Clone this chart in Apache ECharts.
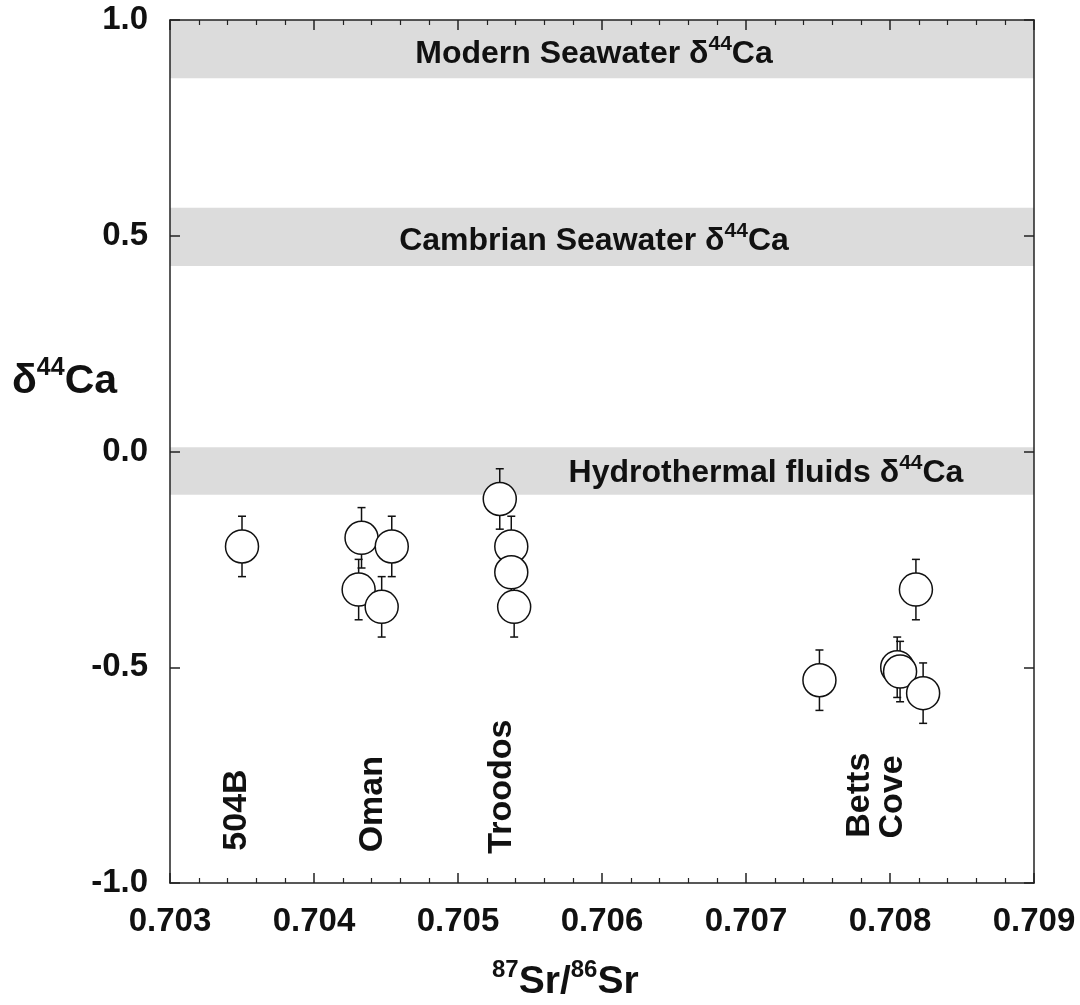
<!DOCTYPE html>
<html>
<head>
<meta charset="utf-8">
<title>d44Ca vs 87Sr/86Sr</title>
<script src="https://cdn.jsdelivr.net/npm/echarts@6/dist/echarts.min.js"></script>
<style>
  html, body { margin: 0; padding: 0; background: #fff; }
  #main { width: 1080px; height: 1005px; }
</style>
</head>
<body>
<div id="main"></div>
<script type="text/javascript">
// samples: 87Sr/86Sr and d44Ca with 2 sigma error
const srRatio = [0.70350, 0.70433, 0.70454, 0.70431, 0.70447, 0.70529, 0.70537, 0.70537, 0.70539, 0.70751, 0.70818, 0.70805, 0.70807, 0.70823];
const d44Ca   = [-0.22, -0.20, -0.22, -0.32, -0.36, -0.11, -0.22, -0.28, -0.36, -0.53, -0.32, -0.50, -0.51, -0.56];
const d44Err  = [0.07, 0.07, 0.07, 0.07, 0.07, 0.07, 0.07, 0.07, 0.07, 0.07, 0.07, 0.07, 0.07, 0.07];

// reference bands
const bandNames = ['Modern Seawater', 'Cambrian Seawater', 'Hydrothermal fluids'];
const bandLow   = [0.865, 0.43, -0.10];
const bandHigh  = [1.0, 0.565, 0.01];

// locality labels
const groupNames = ['504B', 'Oman', 'Troodos', 'Betts', 'Cove'];
const groupX     = [0.703465, 0.70441, 0.705306, 0.707792, 0.708021];
const groupY     = [-0.925, -0.929, -0.932, -0.895, -0.897];

const FONT = '"Liberation Sans", Arial, Helvetica, sans-serif';
const INK = '#111';

const supRich = {
  t: { fontFamily: FONT, fontWeight: 'bold', fontSize: 32, color: INK, lineHeight: 36, verticalAlign: 'bottom' },
  s: { fontFamily: FONT, fontWeight: 'bold', fontSize: 21, color: INK, lineHeight: 22, verticalAlign: 'top' }
};
const bandOffsets = [[-8, 3], [-8, 2], [164, 0]];

const chart = echarts.init(document.getElementById('main'));

function axisStyle() {
  return {
    z: 10,
    axisLine: { onZero: false, lineStyle: { color: '#222', width: 1.5 } },
    axisTick: { inside: true, length: 10, lineStyle: { color: '#222', width: 1.5 } },
    splitLine: { show: false }
  };
}
const minor = { show: true, splitNumber: 5, length: 5, lineStyle: { color: '#222', width: 1.2 } };

chart.setOption({
  animation: false,
  backgroundColor: '#fff',
  grid: { left: 170, right: 46, top: 20, bottom: 122 },
  xAxis: [
    Object.assign(axisStyle(), {
      type: 'value', position: 'bottom', min: 0.703, max: 0.709, interval: 0.001,
      minorTick: minor,
      axisLabel: { margin: 22, fontFamily: FONT, fontWeight: 'bold', fontSize: 33, color: INK,
                   formatter: v => v.toFixed(3) }
    }),
    Object.assign(axisStyle(), {
      type: 'value', position: 'top', min: 0.703, max: 0.709, interval: 0.001,
      minorTick: minor,
      axisLabel: { show: false }
    })
  ],
  yAxis: [
    Object.assign(axisStyle(), {
      type: 'value', position: 'left', min: -1, max: 1, interval: 0.5,
      axisLabel: { margin: 22, fontFamily: FONT, fontWeight: 'bold', fontSize: 33, color: INK,
                   formatter: v => v.toFixed(1) }
    }),
    Object.assign(axisStyle(), {
      type: 'value', position: 'right', min: -1, max: 1, interval: 0.5,
      axisLabel: { show: false }
    })
  ],
  graphic: [
    {
      type: 'text', left: 12, top: 356,
      style: {
        text: '{t|δ}{s|44}{t|Ca}',
        rich: {
          t: { fontFamily: FONT, fontWeight: 'bold', fontSize: 41, fill: INK, lineHeight: 46, verticalAlign: 'bottom' },
          s: { fontFamily: FONT, fontWeight: 'bold', fontSize: 25, fill: INK, lineHeight: 24, verticalAlign: 'top' }
        }
      }
    },
    {
      type: 'text', left: 492, top: 958,
      style: {
        text: '{s|87}{t|Sr/}{s|86}{t|Sr}',
        rich: {
          t: { fontFamily: FONT, fontWeight: 'bold', fontSize: 39, fill: INK, lineHeight: 44, verticalAlign: 'bottom' },
          s: { fontFamily: FONT, fontWeight: 'bold', fontSize: 24, fill: INK, lineHeight: 24, verticalAlign: 'top' }
        }
      }
    }
  ],
  series: [
    {
      name: 'bands',
      type: 'scatter',
      data: [],
      silent: true,
      markArea: {
        silent: true,
        itemStyle: { color: '#dcdcdc' },
        data: bandNames.map((n, i) => [
          {
            yAxis: bandLow[i],
            label: {
              show: true, position: 'inside', offset: bandOffsets[i],
              formatter: '{t|' + n + ' δ}{s|44}{t|Ca}',
              rich: supRich
            }
          },
          { yAxis: bandHigh[i] }
        ])
      }
    },
    {
      name: 'error',
      type: 'custom',
      z: 3,
      data: srRatio.map((x, i) => [x, d44Ca[i] - d44Err[i], d44Ca[i] + d44Err[i]]),
      renderItem: function (params, api) {
        const lo = api.coord([api.value(0), api.value(1)]);
        const hi = api.coord([api.value(0), api.value(2)]);
        const cap = 4;
        const style = { stroke: INK, lineWidth: 1.5 };
        return {
          type: 'group',
          children: [
            { type: 'line', shape: { x1: lo[0], y1: lo[1], x2: hi[0], y2: hi[1] }, style: style },
            { type: 'line', shape: { x1: lo[0] - cap, y1: lo[1], x2: lo[0] + cap, y2: lo[1] }, style: style },
            { type: 'line', shape: { x1: hi[0] - cap, y1: hi[1], x2: hi[0] + cap, y2: hi[1] }, style: style }
          ]
        };
      }
    },
    {
      name: 'samples',
      type: 'scatter',
      z: 4,
      symbol: 'circle',
      symbolSize: 33,
      itemStyle: { color: '#fff', borderColor: INK, borderWidth: 1.5, opacity: 1 },
      data: srRatio.map((x, i) => [x, d44Ca[i]])
    },
    {
      name: 'localities',
      type: 'scatter',
      z: 5,
      symbolSize: 0,
      silent: true,
      itemStyle: { opacity: 1 },
      data: groupNames.map((n, i) => ({ value: [groupX[i], groupY[i]], name: n })),
      label: {
        show: true, position: 'inside', rotate: 90, align: 'left', verticalAlign: 'middle',
        formatter: p => p.name, opacity: 1,
        fontFamily: FONT, fontWeight: 'bold', fontSize: 34, color: INK
      }
    }
  ]
});
</script>
</body>
</html>
